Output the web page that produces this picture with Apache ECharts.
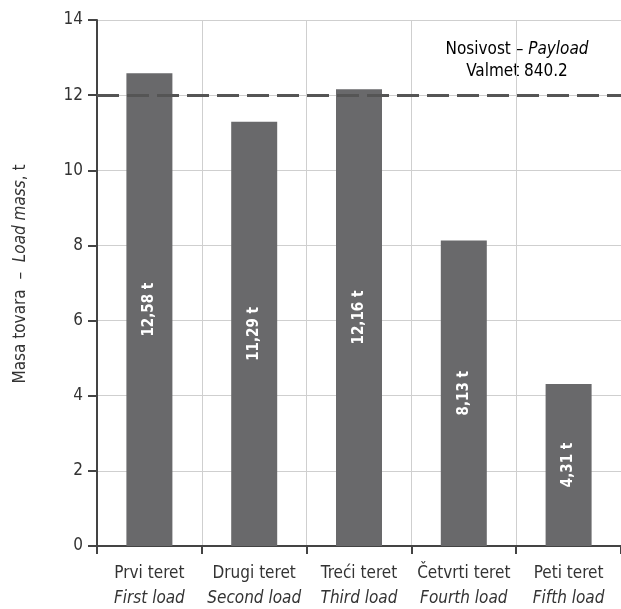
<!DOCTYPE html>
<html><head><meta charset="utf-8">
<script src="https://cdn.jsdelivr.net/npm/echarts@6/dist/echarts.min.js"></script>
<style>html,body{margin:0;padding:0;background:#fff}#c{width:621px;height:609px}</style>
</head><body><div id="c"></div>
<script>
const catLocal = ['Prvi teret','Drugi teret','Treći teret','Četvrti teret','Peti teret'];
const catEnglish = ['First load','Second load','Third load','Fourth load','Fifth load'];
const loads = [12.58, 11.29, 12.16, 8.13, 4.31];
const loadLabels = ['12,58 t','11,29 t','12,16 t','8,13 t','4,31 t'];
const payload = 12;
const yTicks = [0,2,4,6,8,10,12,14];

const FONT = '"DejaVu Sans Condensed","Liberation Sans Narrow",sans-serif';
const chart = echarts.init(document.getElementById('c'), null, {renderer:'canvas'});
chart.setOption({
  animation:false,
  grid:{left:97, right:0, top:20, bottom:63, containLabel:false},
  xAxis:{
    type:'category',
    data:catLocal.map((c,i)=>c+'\n'+catEnglish[i]),
    axisLine:{lineStyle:{color:'#444', width:2}},
    axisTick:{show:true, length:8, lineStyle:{color:'#444', width:2}, alignWithLabel:false},
    splitLine:{show:true, lineStyle:{color:'#cfcfcf', width:1}},
    axisLabel:{
      margin:15, fontFamily:FONT, fontSize:17, color:'#333', interval:0,
      formatter:(v)=>{const p=v.split('\n');return '{a|'+p[0]+'}\n{b|'+p[1]+'}';},
      rich:{a:{fontFamily:FONT,fontSize:17,color:'#333',lineHeight:25},
            b:{fontFamily:FONT,fontSize:17,color:'#333',fontStyle:'italic',lineHeight:25}}
    }
  },
  yAxis:{
    type:'value', min:0, max:14, interval:2,
    axisLine:{show:true, lineStyle:{color:'#444', width:2}},
    axisTick:{show:true, length:9, lineStyle:{color:'#444', width:2}},
    splitLine:{show:true, lineStyle:{color:'#cfcfcf', width:1}},
    axisLabel:{margin:14, fontFamily:FONT, fontSize:17, color:'#333',
      formatter:(v)=>yTicks.includes(v)?String(v):''},
    name:'{a|Masa tovara  –  }{b|Load mass}{a|, t}',
    nameLocation:'middle', nameGap:68, nameRotate:90,
    nameTextStyle:{padding:[0,0,0,18],
      rich:{a:{fontFamily:FONT,fontSize:17,color:'#333'},
            b:{fontFamily:FONT,fontSize:17,color:'#333',fontStyle:'italic'}}}
  },
  series:[{
    type:'bar', data:loads, barWidth:46,
    itemStyle:{color:'#69696b'},
    label:{show:true, position:'inside', rotate:90, color:'#fff',
      fontFamily:FONT, fontSize:15, fontWeight:'bold',
      formatter:(p)=>loadLabels[p.dataIndex]},
    markLine:{
      silent:true, symbol:'none',
      lineStyle:{color:'#555', width:3, type:[22,8]},
      label:{show:false},
      data:[{yAxis:payload}]
    }
  }],
  graphic:[{
    type:'text', x:517, y:39,
    style:{
      text:'{a|Nosivost – }{b|Payload}\n{a|Valmet 840.2}',
      align:'center', textAlign:'center',
      rich:{a:{fontFamily:FONT,fontSize:17,color:'#333',lineHeight:22},
            b:{fontFamily:FONT,fontSize:17,color:'#333',fontStyle:'italic',lineHeight:22}}
    }
  }]
});
</script></body></html>
